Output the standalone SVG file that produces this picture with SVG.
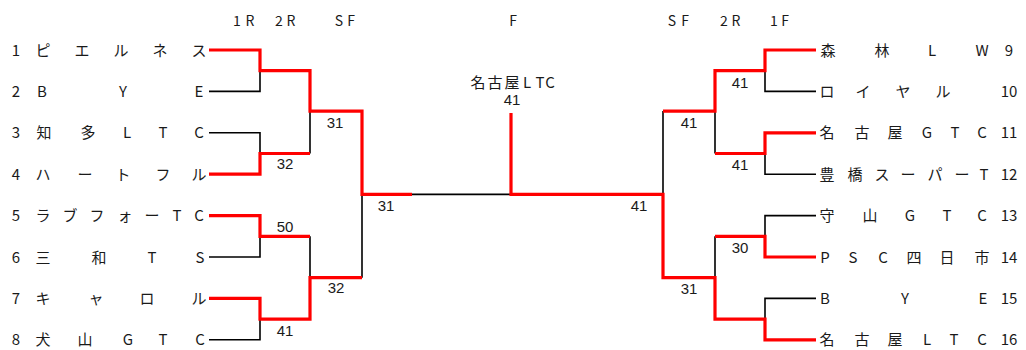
<svg xmlns="http://www.w3.org/2000/svg" width="1026" height="350" viewBox="0 0 1026 350">
<style>
.bg{fill:#fff}
.nm{font-family:"Noto Sans CJK JP","Liberation Sans",sans-serif;font-size:15px;fill:#1a1a1a;text-anchor:middle}
.hd{font-family:"Noto Sans CJK JP","Liberation Sans",sans-serif;font-size:14px;fill:#1a1a1a;text-anchor:middle}
.sc{font-family:"Liberation Sans",Arial,sans-serif;font-size:15px;fill:#1a1a1a;text-anchor:middle}
.lb{fill:none;stroke:#000;stroke-width:1.6}
.lr{fill:none;stroke:#ff0000;stroke-width:3.2;stroke-linejoin:miter;stroke-linecap:butt}
</style>
<rect class="bg" x="0" y="0" width="1026" height="350"/>
<g id="headers">
<text class="hd" x="237 250" y="26">1R</text>
<text class="hd" x="279 291" y="26">2R</text>
<text class="hd" x="339 351" y="26">SF</text>
<text class="hd" x="513" y="26">F</text>
<text class="hd" x="672 685" y="26">SF</text>
<text class="hd" x="724 736" y="26">2R</text>
<text class="hd" x="774 785" y="26">1F</text>
</g>
<g id="connectors">
<path class="lb" d="M209,91.4H260V70.7 M209,132.8H260V153.5 M209,257H260V236.3 M209,339.8H260V319.1 M310,153.5V111.1 M310,236.3V277.7 M362,277.7V194.4 M412,194.4H511"/>
<path class="lb" d="M816,91.4H765V70.7 M816,174.2H765V153.5 M816,215.6H765V236.3 M816,298.4H765V319.1 M715,111.1V153.5 M715,236.3V277.7 M663,111.1V194.4"/>
<path class="lr" d="M209,50H260V70.7H310V111.1H362V194.4H412"/>
<path class="lr" d="M209,174.2H260V153.5H310"/>
<path class="lr" d="M209,215.6H260V236.3H310"/>
<path class="lr" d="M209,298.4H260V319.1H310V277.7H362"/>
<path class="lr" d="M511,113V194.4H663V277.7H715V319.1H765V339.8H816"/>
<path class="lr" d="M816,50H765V70.7H715V111.1H663"/>
<path class="lr" d="M816,132.8H765V153.5H715"/>
<path class="lr" d="M816,257H765V236.3H715"/>
</g>
<g id="scores">
<text class="sc" x="335" y="128.4">31</text>
<text class="sc" x="285" y="169.4">32</text>
<text class="sc" x="285" y="232.4">50</text>
<text class="sc" x="285" y="336.4">41</text>
<text class="sc" x="336" y="293.4">32</text>
<text class="sc" x="386" y="211.4">31</text>
<text class="sc" x="740" y="88.4">41</text>
<text class="sc" x="689" y="128.4">41</text>
<text class="sc" x="740" y="170.4">41</text>
<text class="sc" x="740" y="253.4">30</text>
<text class="sc" x="689" y="294.4">31</text>
<text class="sc" x="639" y="211.4">41</text>
</g>
<g id="champion">
<text class="nm" x="478 495 512 527 540 550" y="87.5">名古屋LTC</text>
<text class="sc" x="512" y="105.4">41</text>
</g>
<g id="team1"><text class="nm" x="16" y="55.5">1</text><text class="nm" x="43 82 121 160 199" y="55.5">ピエルネス</text></g>
<g id="team2"><text class="nm" x="16" y="96.9">2</text><text class="nm" x="42 123 199" y="96.9">BYE</text></g>
<g id="team3"><text class="nm" x="16" y="138.3">3</text><text class="nm" x="44 88 127 163 199" y="138.3">知多LTC</text></g>
<g id="team4"><text class="nm" x="16" y="179.7">4</text><text class="nm" x="43 85 123 163 199" y="179.7">ハートフル</text></g>
<g id="team5"><text class="nm" x="16" y="221.1">5</text><text class="nm" x="43 70 97 125 152 177 199" y="221.1">ラブフォーTC</text></g>
<g id="team6"><text class="nm" x="16" y="262.5">6</text><text class="nm" x="43 99 152 200" y="262.5">三和TS</text></g>
<g id="team7"><text class="nm" x="16" y="303.9">7</text><text class="nm" x="43 96 147 199" y="303.9">キャロル</text></g>
<g id="team8"><text class="nm" x="16" y="345.3">8</text><text class="nm" x="43 85 128 163 200" y="345.3">犬山GTC</text></g>
<g id="team9"><text class="nm" x="828 882 932 982" y="55.5">森林LW</text><text class="nm" x="1009" y="55.5">9</text></g>
<g id="team10"><text class="nm" x="827 863 903 943" y="96.9">ロイヤル</text><text class="nm" x="1009" y="96.9">10</text></g>
<g id="team11"><text class="nm" x="827 862 895 927 955 982" y="138.3">名古屋GTC</text><text class="nm" x="1009" y="138.3">11</text></g>
<g id="team12"><text class="nm" x="827 855 882 908 935 962 984" y="179.7">豊橋スーパーT</text><text class="nm" x="1009" y="179.7">12</text></g>
<g id="team13"><text class="nm" x="827 870 910 947 982" y="221.1">守山GTC</text><text class="nm" x="1009" y="221.1">13</text></g>
<g id="team14"><text class="nm" x="825 853 883 914 947 982" y="262.5">PSC四日市</text><text class="nm" x="1009" y="262.5">14</text></g>
<g id="team15"><text class="nm" x="825 905 983" y="303.9">BYE</text><text class="nm" x="1009" y="303.9">15</text></g>
<g id="team16"><text class="nm" x="827 862 895 927 954 982" y="345.3">名古屋LTC</text><text class="nm" x="1009" y="345.3">16</text></g>
</svg>
